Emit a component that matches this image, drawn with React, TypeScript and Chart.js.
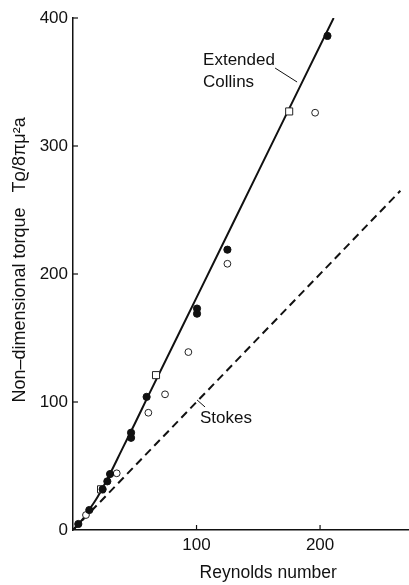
import React, { useEffect, useRef } from "react";
import { Chart, registerables } from "chart.js";

Chart.register(...registerables);

// ---- Data ----
const filledRe = [4.3, 13.2, 24, 27.8, 30, 47, 47, 59.6, 100.4, 100.4, 125, 206];
const filledTorque = [4.7, 15.6, 31.8, 38, 43.7, 72, 76, 104, 169, 173, 219, 386];

const openRe = [10.5, 35.4, 61, 74.5, 93.4, 125, 196];
const openTorque = [11.7, 44.3, 91.6, 106, 139, 208, 326];

const squareRe = [22.7, 67.2, 175];
const squareTorque = [31.8, 121, 327];

const collinsRe = [0, 5, 10, 15, 20, 30, 40, 50, 60, 100, 150, 211];
const collinsTorque = [0, 5.3, 11, 18.5, 26, 44, 63.6, 83, 103, 181.5, 280, 400];

const stokesRe = [0, 265];
const stokesTorque = [0, 265];

const xTickValues = [100, 200];
const yTickValues = [0, 100, 200, 300, 400];

const X_TITLE = "Reynolds number";
const Y_TITLE = "Non\u2013dimensional torque   T\u03F1/8\u03C0\u03BC\u00B2a";
const LABEL_EXTENDED = "Extended";
const LABEL_COLLINS = "Collins";
const LABEL_STOKES = "Stokes";

const FONT = '"Liberation Sans", Arial, Helvetica, sans-serif';
const INK = "#111";

const toPoints = (xs: number[], ys: number[]) => xs.map((x, i) => ({ x, y: ys[i] }));

const overlayPlugin = {
  id: "overlay",
  afterDraw(chart: any) {
    const { ctx, chartArea, scales } = chart;
    const x = scales.x;
    const y = scales.y;
    const seg = (x1: number, y1: number, x2: number, y2: number) => {
      ctx.beginPath();
      ctx.moveTo(x1, y1);
      ctx.lineTo(x2, y2);
      ctx.stroke();
    };
    ctx.save();
    ctx.strokeStyle = INK;
    ctx.lineWidth = 1.2;
    // inward tick marks
    y.ticks.forEach((t: any) => {
      if (t.value === 0) return;
      const py = y.getPixelForValue(t.value);
      seg(chartArea.left, py, chartArea.left + 5, py);
    });
    x.ticks.forEach((t: any) => {
      const px = x.getPixelForValue(t.value);
      seg(px, chartArea.bottom, px, chartArea.bottom - 5);
    });

    // axis titles
    ctx.fillStyle = INK;
    ctx.textAlign = "center";
    ctx.textBaseline = "middle";
    ctx.font = `17.5px ${FONT}`;
    ctx.fillText(X_TITLE, x.getPixelForValue(158), chartArea.bottom + 43);
    ctx.save();
    ctx.font = `18px ${FONT}`;
    ctx.translate(20, y.getPixelForValue(211));
    ctx.rotate(-Math.PI / 2);
    ctx.fillText(Y_TITLE, 0, 0);
    ctx.restore();

    // curve labels
    ctx.font = `17px ${FONT}`;
    ctx.textAlign = "left";
    ctx.fillText(LABEL_EXTENDED, x.getPixelForValue(105.3), y.getPixelForValue(367));
    ctx.fillText(LABEL_COLLINS, x.getPixelForValue(105.3), y.getPixelForValue(350));
    ctx.fillText(LABEL_STOKES, x.getPixelForValue(102.8), y.getPixelForValue(87.5));

    ctx.lineWidth = 1;
    seg(
      x.getPixelForValue(163.6), y.getPixelForValue(360.9),
      x.getPixelForValue(181.4), y.getPixelForValue(350)
    );
    seg(
      x.getPixelForValue(100.4), y.getPixelForValue(101.6),
      x.getPixelForValue(106.9), y.getPixelForValue(96.1)
    );
    ctx.restore();
  },
};

export default function App() {
  const ref = useRef<HTMLCanvasElement>(null);

  useEffect(() => {
    document.body.style.margin = "0";
    Chart.defaults.font.family = FONT;
    const chart = new Chart(ref.current as HTMLCanvasElement, {
      type: "scatter",
      data: {
        datasets: [
          {
            label: "filled",
            data: toPoints(filledRe, filledTorque),
            pointStyle: "circle",
            pointRadius: 3.6,
            backgroundColor: INK,
            borderColor: INK,
            borderWidth: 1,
          },
          {
            label: "open",
            data: toPoints(openRe, openTorque),
            pointStyle: "circle",
            pointRadius: 3.4,
            backgroundColor: "#fff",
            borderColor: "#222",
            borderWidth: 1,
          },
          {
            label: "square",
            data: toPoints(squareRe, squareTorque),
            pointStyle: "rect",
            pointRadius: 5,
            backgroundColor: "#fff",
            borderColor: "#222",
            borderWidth: 1,
          },
          {
            label: "Extended Collins",
            data: toPoints(collinsRe, collinsTorque),
            showLine: true,
            pointRadius: 0,
            borderColor: INK,
            borderWidth: 2,
            cubicInterpolationMode: "monotone",
          },
          {
            label: "Stokes",
            data: toPoints(stokesRe, stokesTorque),
            showLine: true,
            pointRadius: 0,
            borderColor: INK,
            borderWidth: 2,
            borderDash: [8, 5],
          },
        ],
      } as any,
      options: {
        animation: false,
        responsive: true,
        maintainAspectRatio: false,
        layout: { autoPadding: false, padding: { top: 18, right: 0, left: 0, bottom: 0 } },
        plugins: { legend: { display: false }, tooltip: { enabled: false } },
        scales: {
          x: {
            type: "linear",
            min: 0,
            max: 272,
            afterBuildTicks: (s: any) => {
              s.ticks = xTickValues.map((v) => ({ value: v }));
            },
            afterFit: (s: any) => {
              s.height = 55;
            },
            grid: { display: false, drawTicks: false },
            border: { display: true, color: INK, width: 1.5 },
            ticks: { color: INK, font: { size: 17 }, padding: 5, maxRotation: 0 },
          },
          y: {
            type: "linear",
            min: 0,
            max: 400,
            afterBuildTicks: (s: any) => {
              s.ticks = yTickValues.map((v) => ({ value: v }));
            },
            afterFit: (s: any) => {
              s.width = 73;
            },
            grid: { display: false, drawTicks: false },
            border: { display: true, color: INK, width: 1.5 },
            ticks: { color: INK, font: { size: 17 }, padding: 5 },
          },
        },
      } as any,
      plugins: [overlayPlugin],
    });
    return () => chart.destroy();
  }, []);

  return (
    <div style={{ width: 409, height: 585, position: "relative" }}>
      <canvas ref={ref} />
    </div>
  );
}
